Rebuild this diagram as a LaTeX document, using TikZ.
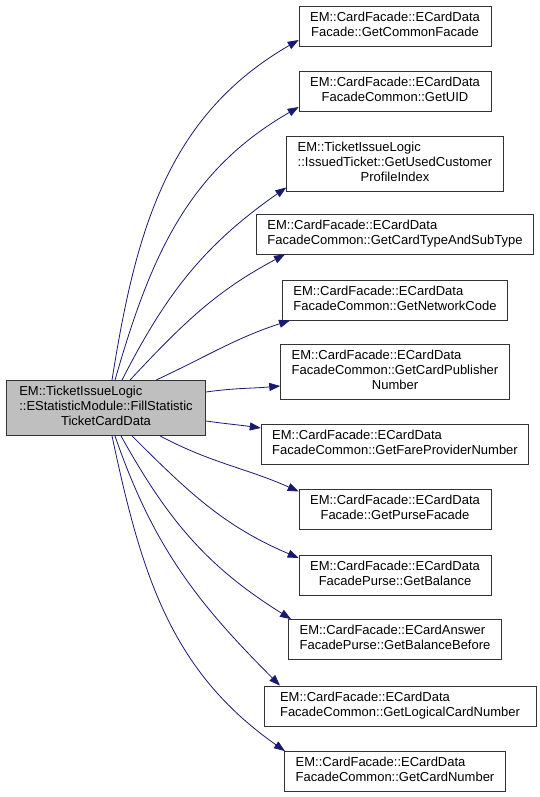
\documentclass[tikz,border=0pt]{standalone}
\usepackage{fontspec}
\setmainfont{Liberation Sans}
\usetikzlibrary{arrows.meta}
\definecolor{callblue}{HTML}{191970}
\definecolor{rootgray}{HTML}{BFBFBF}
% lines set left, the last one centred
\newcommand{\fnlines}[2]{\begin{tabular}{@{}l@{}}#1\\\multicolumn{1}{@{}c@{}}{#2}\end{tabular}}
\begin{document}
\begin{tikzpicture}[x=1pt,y=1pt,>={Triangle[length=11pt,width=8pt]},
  fn/.style={draw=black!80,line width=0.8pt,fill=white,inner xsep=11pt,inner ysep=5pt,font=\fontsize{13}{15}\selectfont},
  root/.style={fn,fill=rootgray,inner xsep=13pt},
  call/.style={->,draw=callblue,line width=0.8pt}]
\useasboundingbox (0,0) rectangle (540,797);
\node[root] (src) at (106,389) {\fnlines{EM::TicketIssueLogic\\::EStatisticModule::FillStatistic}{TicketCardData}};
\node[fn] (b1) at (395,771) {\fnlines{EM::CardFacade::ECardData}{Facade::GetCommonFacade}};
\node[fn] (b2) at (395,706) {\fnlines{EM::CardFacade::ECardData}{FacadeCommon::GetUID}};
\node[fn] (b3) at (395,633.5) {\fnlines{EM::TicketIssueLogic\\::IssuedTicket::GetUsedCustomer}{ProfileIndex}};
\node[fn] (b4) at (395,563) {\fnlines{EM::CardFacade::ECardData}{FacadeCommon::GetCardTypeAndSubType}};
\node[fn] (b5) at (395,497) {\fnlines{EM::CardFacade::ECardData}{FacadeCommon::GetNetworkCode}};
\node[fn] (b6) at (395,425) {\fnlines{EM::CardFacade::ECardData\\FacadeCommon::GetCardPublisher}{Number}};
\node[fn] (b7) at (395,353) {\fnlines{EM::CardFacade::ECardData}{FacadeCommon::GetFareProviderNumber}};
\node[fn] (b8) at (395,287.5) {\fnlines{EM::CardFacade::ECardData}{Facade::GetPurseFacade}};
\node[fn] (b9) at (395,222) {\fnlines{EM::CardFacade::ECardData}{FacadePurse::GetBalance}};
\node[fn] (b10) at (395,157.5) {\fnlines{EM::CardFacade::ECardAnswer}{FacadePurse::GetBalanceBefore}};
\node[fn,minimum width=272pt] (b11) at (400,91) {\fnlines{EM::CardFacade::ECardData}{FacadeCommon::GetLogicalCardNumber}};
\node[fn] (b12) at (395,25.5) {\fnlines{EM::CardFacade::ECardData}{FacadeCommon::GetCardNumber}};
\draw[call] ([xshift=6pt]src.north) to[out=81,in=-150] ([yshift=-14pt]b1.west);
\draw[call] ([xshift=9pt]src.north) to[out=74,in=-150] ([yshift=-16pt]b2.west);
\draw[call] ([xshift=16pt]src.north) to[out=63,in=-145] ([yshift=-24pt]b3.west);
\draw[call] ([xshift=24pt]src.north) to[out=47,in=-152] ([xshift=-110pt]b4.south);
\draw[call] ([xshift=50pt]src.north) to[out=25,in=-162] ([xshift=-105pt]b5.south);
\draw[call] ([yshift=16pt]src.east) to[out=8,in=-175] ([yshift=-14pt]b6.west);
\draw[call] ([yshift=-13pt]src.east) to[out=-8,in=172] ([yshift=16pt]b7.west);
\draw[call] ([xshift=54pt]src.south) to[out=-28,in=156] ([yshift=18pt]b8.west);
\draw[call] ([xshift=26pt]src.south) to[out=-45,in=157] ([yshift=17pt]b9.west);
\draw[call] ([xshift=15pt]src.south) to[out=-61,in=148] ([xshift=-104pt]b10.north);
\draw[call] ([xshift=9pt]src.south) to[out=-71,in=135] ([xshift=-120pt]b11.north);
\draw[call] ([xshift=6pt]src.south) to[out=-78,in=145] ([xshift=-110pt]b12.north);
\end{tikzpicture}
\end{document}
